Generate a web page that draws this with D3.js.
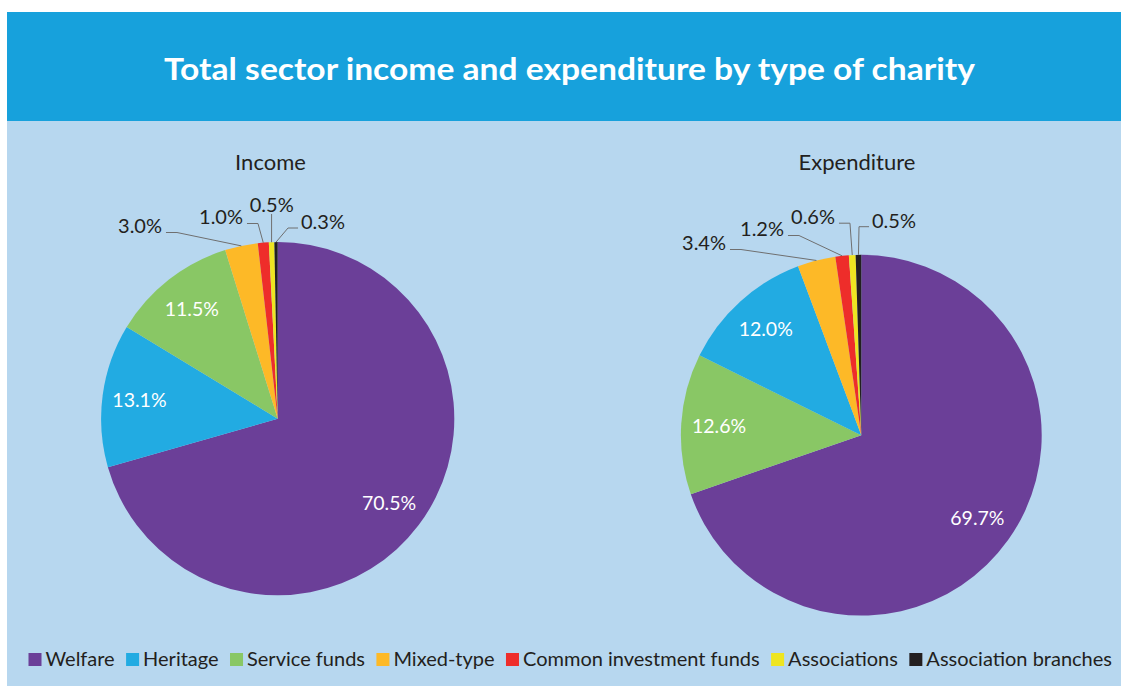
<!DOCTYPE html>
<html>
<head>
<meta charset="utf-8">
<script src="https://cdn.jsdelivr.net/npm/d3@7"></script>
<style>
  body { margin: 0; background: #fff; }
  svg { display: block; }
  text { font-family: Lato, "Open Sans", sans-serif; }
</style>
</head>
<body>
<div class="chart"></div>
<script>
// chart data
var chartTitle = "Total sector income and expenditure by type of charity";
var categories = ["Welfare", "Heritage", "Service funds", "Mixed-type",
    "Common investment funds", "Associations", "Association branches"];
var incomeValues = [70.5, 13.1, 11.5, 3.0, 1.0, 0.5, 0.3];
var expenditureValues = [69.7, 12.0, 12.6, 3.4, 1.2, 0.6, 0.5];
// order the slices run clockwise from 12 o'clock
var incomeOrder = [0, 1, 2, 3, 4, 5, 6];
var expenditureOrder = [0, 2, 1, 3, 4, 5, 6];

var colors = ["#6b3f98", "#22abe2", "#89c765", "#fdb927", "#ee2d2a", "#eee521", "#231f20"];

var width = 1121,
    height = 686;

var svg = d3.select(".chart").append("svg")
    .attr("width", width)
    .attr("height", height);

// header band + panel
svg.append("rect")
    .attr("x", 7).attr("y", 12)
    .attr("width", width - 7).attr("height", 109)
    .attr("fill", "#17a1dc");
svg.append("rect")
    .attr("x", 7).attr("y", 121)
    .attr("width", width - 7).attr("height", height - 121)
    .attr("fill", "#b7d7ef");

svg.append("text")
    .attr("x", 569.5)
    .attr("y", 79.5)
    .attr("text-anchor", "middle")
    .attr("fill", "#fff")
    .attr("textLength", 811)
    .attr("lengthAdjust", "spacingAndGlyphs")
    .style("font-weight", "bold")
    .style("font-size", "30px")
    .text(chartTitle);

var color = d3.scaleOrdinal().domain(categories).range(colors);

var pies = [
    {
        name: "Income", values: incomeValues, order: incomeOrder,
        cx: 277.7, cy: 418.7, r: 176.6, titleX: 270.5,
        // where the small-slice labels sit, relative to centre
        outside: [[-137.7, -192.7], [-56.7, -201.7], [-6, -213.7], [45.3, -196.7]]
    },
    {
        name: "Expenditure", values: expenditureValues, order: expenditureOrder,
        cx: 861.3, cy: 435.2, r: 180.4, titleX: 857,
        outside: [[-157.3, -192.2], [-99.3, -206.2], [-48.3, -218.5], [32.7, -214.5]]
    }
];

var pie = d3.pie().sort(null).value(function (d) { return d.value; });

pies.forEach(function (p) {
    var data = p.order.map(function (i) {
        return { name: categories[i], value: p.values[i] };
    });
    var arcs = pie(data);

    var arc = d3.arc().innerRadius(0).outerRadius(p.r);
    var labelArc = d3.arc().innerRadius(p.r * 0.79).outerRadius(p.r * 0.79);

    svg.append("text")
        .attr("x", p.titleX)
        .attr("y", 170)
        .attr("text-anchor", "middle")
        .attr("fill", "#231f20")
        .style("font-size", "22px")
        .text(p.name);

    var g = svg.append("g")
        .attr("transform", "translate(" + p.cx + "," + p.cy + ")");

    g.selectAll("path.slice")
        .data(arcs)
        .enter().append("path")
        .attr("class", "slice")
        .attr("d", arc)
        .attr("fill", function (d) { return color(d.data.name); });

    // big slices: label inside
    g.selectAll("text.inner")
        .data(arcs.filter(function (d) { return d.data.value >= 5; }))
        .enter().append("text")
        .attr("class", "inner")
        .attr("transform", function (d) { return "translate(" + labelArc.centroid(d) + ")"; })
        .attr("dy", "0.35em")
        .attr("text-anchor", "middle")
        .attr("fill", "#fff")
        .style("font-size", "19.5px")
        .text(function (d) { return d.data.value.toFixed(1) + "%"; });

    // small slices: label outside with leader line
    var small = arcs.filter(function (d) { return d.data.value < 5; });
    small.forEach(function (d, i) {
        var mid = (d.startAngle + d.endAngle) / 2;
        var ax = p.r * Math.sin(mid),
            ay = -p.r * Math.cos(mid);
        var lx = p.outside[i][0],
            ly = p.outside[i][1];

        var t = g.append("text")
            .attr("x", lx)
            .attr("y", ly)
            .attr("dy", "0.35em")
            .attr("text-anchor", "middle")
            .attr("fill", "#231f20")
            .style("font-size", "20px")
            .text(d.data.value.toFixed(1) + "%");
        var w = t.node().getComputedTextLength();

        var pts;
        if (Math.abs(lx - ax) < 12) {
            pts = [[ax, ly + 9], [ax, ay]];
        } else if (lx < ax) {
            var sx = lx + w / 2 + 4;
            pts = [[sx, ly + 6.5], [sx + 11, ly + 6.5], [ax, ay]];
        } else {
            var ex = lx - w / 2 - 3;
            pts = [[ex, ly + 6], [ex - 10, ly + 6], [ax, ay]];
        }
        g.append("path")
            .attr("d", d3.line()(pts))
            .attr("fill", "none")
            .attr("stroke", "#6f6f6f")
            .attr("stroke-width", 1);
    });
});

// legend, spread to fill the panel width
var legend = svg.append("g").attr("class", "legend");
var legendLeft = 28.5, legendRight = 1112;
var items = categories.map(function (name) {
    var t = legend.append("text")
        .attr("y", 666)
        .attr("fill", "#231f20")
        .style("font-size", "20px")
        .text(name);
    return { name: name, text: t, w: t.node().getComputedTextLength() };
});
var used = d3.sum(items, function (d) { return d.w + 17; });
var gap = (legendRight - legendLeft - used) / (items.length - 1);
var lx = legendLeft;
items.forEach(function (d) {
    legend.append("rect")
        .attr("x", lx).attr("y", 653)
        .attr("width", 13).attr("height", 13)
        .attr("fill", color(d.name));
    d.text.attr("x", lx + 17);
    lx += 17 + d.w + gap;
});
</script>
</body>
</html>
